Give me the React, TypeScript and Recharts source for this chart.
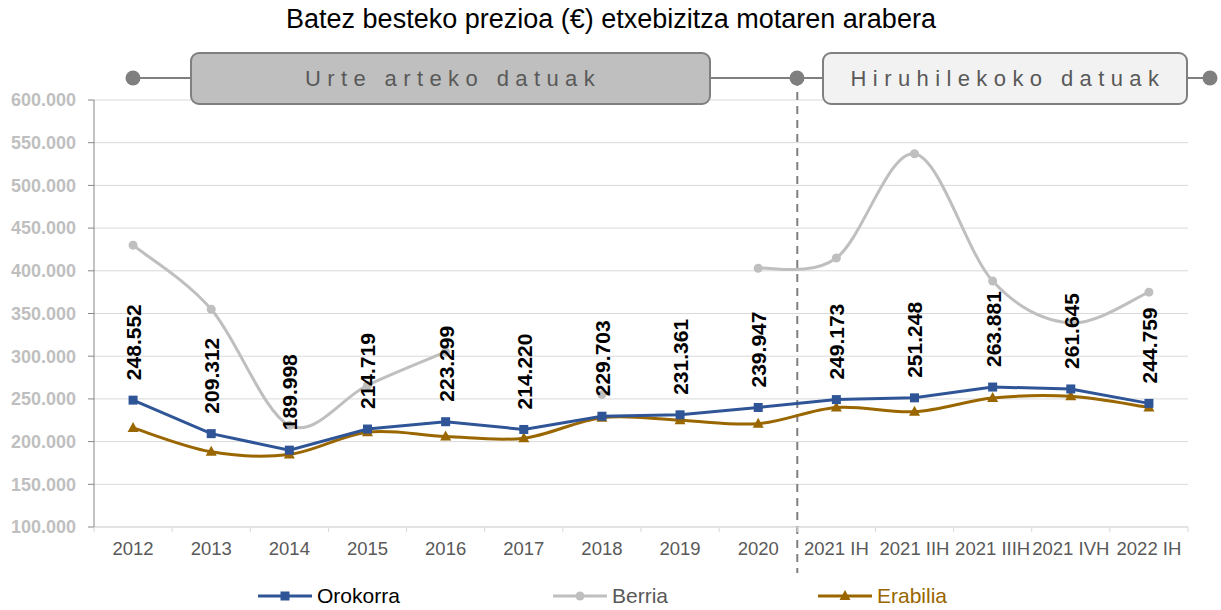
import { LineChart, Line, XAxis, YAxis, CartesianGrid, ReferenceLine, LabelList } from "recharts";

const categories = [
  "2012", "2013", "2014", "2015", "2016", "2017", "2018", "2019", "2020",
  "2021 IH", "2021 IIH", "2021 IIIH", "2021 IVH", "2022 IH",
];
const orokorra = [248552, 209312, 189998, 214719, 223299, 214220, 229703, 231361, 239947, 249173, 251248, 263881, 261645, 244759];
const berria = [430000, 355000, 219000, 266000, 305000, null, 255000, null, 403000, 415000, 537000, 388000, 339000, 375000];
const erabilia = [216000, 188000, 185000, 211000, 206000, 204000, 228000, 225000, 221000, 240000, 235000, 251000, 253000, 240000];
const yTicks = [100000, 150000, 200000, 250000, 300000, 350000, 400000, 450000, 500000, 550000, 600000];

const data = categories.map((cat, i) => ({
  cat,
  orokorra: orokorra[i],
  berria: berria[i],
  erabilia: erabilia[i],
}));

const W = 1221;
const H = 610;
const PLOT_LEFT = 94;
const PLOT_RIGHT = 1188;
const PLOT_TOP = 100;
const PLOT_BOTTOM = 527;
const HALF = (PLOT_RIGHT - PLOT_LEFT) / categories.length / 2;

const BLUE = "#2f5597";
const GREY = "#bfbfbf";
const BROWN = "#996600";
const FONT = "'Liberation Sans', Arial, sans-serif";

const fmt = (v: number) => String(Math.round(v)).replace(/\B(?=(\d{3})+(?!\d))/g, ".");

// excel-like smoothing (catmull-rom through the points)
function smooth(context: any) {
  let pts: number[][] = [];
  return {
    areaStart() {},
    areaEnd() {},
    lineStart() { pts = []; },
    point(x: number, y: number) { pts.push([+x, +y]); },
    lineEnd() {
      const n = pts.length;
      if (!n) return;
      context.moveTo(pts[0][0], pts[0][1]);
      if (n === 1) return;
      for (let i = 0; i < n - 1; i++) {
        const p0 = pts[i - 1] || pts[i];
        const p1 = pts[i];
        const p2 = pts[i + 1];
        const p3 = pts[i + 2] || p2;
        context.bezierCurveTo(
          p1[0] + (p2[0] - p0[0]) / 6, p1[1] + (p2[1] - p0[1]) / 6,
          p2[0] - (p3[0] - p1[0]) / 6, p2[1] - (p3[1] - p1[1]) / 6,
          p2[0], p2[1]
        );
      }
    },
  };
}

const SquareDot = (p: any) => {
  if (p.cy == null || isNaN(p.cy)) return <g key={p.key} />;
  return <rect key={p.key} x={p.cx - 4.5} y={p.cy - 4.5} width={9} height={9} fill={BLUE} />;
};

const TriDot = (p: any) => {
  if (p.cy == null || isNaN(p.cy)) return <g key={p.key} />;
  const { cx, cy } = p;
  return <path key={p.key} d={`M${cx},${cy - 6}L${cx + 5.5},${cy + 4}L${cx - 5.5},${cy + 4}Z`} fill={BROWN} />;
};

const XTick = (p: any) => {
  const { x, payload, index } = p;
  return (
    <g>
      <line x1={x - HALF} x2={x - HALF} y1={PLOT_BOTTOM} y2={PLOT_BOTTOM + 5} stroke="#d9d9d9" />
      {index === categories.length - 1 && (
        <line x1={x + HALF} x2={x + HALF} y1={PLOT_BOTTOM} y2={PLOT_BOTTOM + 5} stroke="#d9d9d9" />
      )}
      <text x={x} y={PLOT_BOTTOM + 28} textAnchor="middle" fill="#595959" fontSize={18.5}>
        {payload.value}
      </text>
    </g>
  );
};

const VerticalLabel = (p: any) => {
  const bx = p.x + 8;
  const by = p.y - 20;
  return (
    <text x={bx} y={by} transform={`rotate(-90 ${bx} ${by})`} fontSize={21} fontWeight="bold" fill="#000" textAnchor="start">
      {fmt(p.value)}
    </text>
  );
};

const Divider = (p: any) => {
  const x = p.x1 + HALF;
  const top = Math.min(p.y1, p.y2);
  const bottom = Math.max(p.y1, p.y2);
  return <line x1={x} x2={x} y1={top - 22} y2={bottom + 46} stroke="#7f7f7f" strokeWidth={2} strokeDasharray="8 6" />;
};

const legendItems = [
  { label: "Orokorra", color: BLUE, text: "#000", left: 258, mark: "square" },
  { label: "Berria", color: GREY, text: "#595959", left: 553, mark: "circle" },
  { label: "Erabilia", color: BROWN, text: BROWN, left: 818, mark: "triangle" },
];

function LegendMark({ color, mark }: { color: string; mark: string }) {
  return (
    <svg width={56} height={16} style={{ display: "block" }}>
      <line x1={1} x2={55} y1={8} y2={8} stroke={color} strokeWidth={3} />
      {mark === "square" && <rect x={23.5} y={3.5} width={9} height={9} fill={color} />}
      {mark === "circle" && <circle cx={28} cy={8} r={4.5} fill={color} />}
      {mark === "triangle" && <path d="M28,2L33.5,12L22.5,12Z" fill={color} />}
    </svg>
  );
}

export default function App() {
  return (
    <div style={{ position: "fixed", left: 0, top: 0, width: W, height: H, fontFamily: FONT, background: "#fff" }}>
      <LineChart width={W} height={H} data={data} margin={{ top: PLOT_TOP, right: W - PLOT_RIGHT, bottom: 0, left: 0 }}>
        <CartesianGrid vertical={false} stroke="#d9d9d9" />
        <XAxis
          dataKey="cat"
          scale="point"
          padding={{ left: HALF, right: HALF }}
          height={H - PLOT_BOTTOM}
          interval={0}
          tickLine={false}
          axisLine={{ stroke: "#d9d9d9" }}
          tick={<XTick />}
        />
        <YAxis
          width={PLOT_LEFT}
          domain={[100000, 600000]}
          ticks={yTicks}
          tickFormatter={fmt}
          tickSize={6}
          tickMargin={12}
          axisLine={{ stroke: "#868686" }}
          tickLine={{ stroke: "#868686" }}
          tick={{ fill: GREY, fontSize: 18, fontWeight: "bold" }}
        />
        <ReferenceLine x="2020" shape={<Divider />} />
        <Line
          dataKey="berria"
          type={smooth as any}
          stroke={GREY}
          strokeWidth={3}
          dot={{ r: 4.5, fill: GREY, stroke: "none" }}
          activeDot={false}
          connectNulls={false}
          isAnimationActive={false}
        />
        <Line
          dataKey="erabilia"
          type={smooth as any}
          stroke={BROWN}
          strokeWidth={3}
          dot={<TriDot />}
          activeDot={false}
          isAnimationActive={false}
        />
        <Line
          dataKey="orokorra"
          type="linear"
          stroke={BLUE}
          strokeWidth={3}
          dot={<SquareDot />}
          activeDot={false}
          isAnimationActive={false}
        >
          <LabelList dataKey="orokorra" content={<VerticalLabel />} />
        </Line>
      </LineChart>

      <svg width={W} height={H} style={{ position: "absolute", left: 0, top: 0, pointerEvents: "none" }}>
        <text x={611} y={28} textAnchor="middle" fontSize={27} fill="#000">
          Batez besteko prezioa (€) etxebizitza motaren arabera
        </text>
        <line x1={133} x2={190} y1={78} y2={78} stroke="#7f7f7f" strokeWidth={2} />
        <line x1={710} x2={822} y1={78} y2={78} stroke="#7f7f7f" strokeWidth={2} />
        <line x1={1187} x2={1210} y1={78} y2={78} stroke="#7f7f7f" strokeWidth={2} />
        <circle cx={133} cy={78} r={7.5} fill="#7f7f7f" />
        <circle cx={797} cy={78} r={7.5} fill="#7f7f7f" />
        <circle cx={1210} cy={78} r={7.5} fill="#7f7f7f" />
        <rect x={191} y={53} width={519} height={51} rx={8} fill="#bfbfbf" stroke="#7f7f7f" strokeWidth={2} />
        <rect x={823} y={53} width={364} height={51} rx={8} fill="#f2f2f2" stroke="#7f7f7f" strokeWidth={2} />
        <text x={453} y={86} textAnchor="middle" fontSize={22} fill="#595959" letterSpacing={6.4}>
          Urte arteko datuak
        </text>
        <text x={1008} y={86} textAnchor="middle" fontSize={22} fill="#595959" letterSpacing={6.4}>
          Hiruhilekoko datuak
        </text>
      </svg>

      {legendItems.map((it) => (
        <div
          key={it.label}
          style={{ position: "absolute", left: it.left - 1, top: 584, display: "flex", alignItems: "center", gap: 4 }}
        >
          <LegendMark color={it.color} mark={it.mark} />
          <span style={{ fontSize: 21, color: it.text, lineHeight: "24px" }}>{it.label}</span>
        </div>
      ))}
    </div>
  );
}
